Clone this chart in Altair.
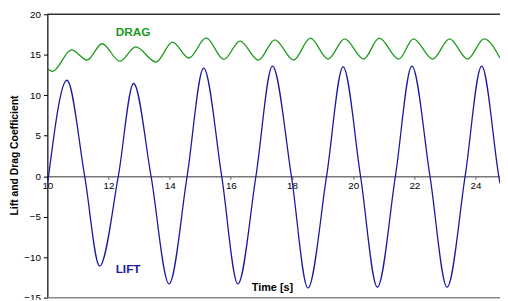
import altair as alt
import pandas as pd

# Lift coefficient: readings (time in s, value)
lift_t = [10.0, 10.04, 10.64, 11.22, 11.71, 12.32, 12.82, 13.39, 13.98, 14.57, 15.11,
          15.70, 16.23, 16.82, 17.36, 17.98, 18.52, 19.13, 19.67, 20.24, 20.79, 21.38,
          21.92, 22.51, 23.07, 23.66, 24.20, 24.76, 24.80]
lift_v = [-1.2, 0.0, 11.85, 0.0, -11.1, 0.0, 11.45, 0.0, -13.3, 0.0, 13.35,
          0.0, -13.3, 0.0, 13.6, 0.0, -13.8, 0.0, 13.5, 0.0, -13.7, 0.0,
          13.6, 0.0, -13.7, 0.0, 13.6, 0.0, -0.9]

# Drag coefficient: readings
drag_t = [10.0, 10.17, 10.79, 11.30, 11.79, 12.37, 12.89, 13.55, 14.09, 14.63, 15.19,
          15.77, 16.30, 16.90, 17.44, 18.05, 18.60, 19.18, 19.72, 20.34, 20.85, 21.49,
          21.97, 22.60, 23.15, 23.74, 24.28, 24.80]
drag_v = [13.3, 12.95, 15.6, 14.35, 16.36, 14.2, 15.96, 14.1, 16.56, 14.6, 17.08,
          14.43, 16.69, 14.35, 16.85, 14.35, 17.05, 14.47, 16.97, 14.47, 17.05, 14.47,
          16.97, 14.47, 16.97, 14.47, 16.97, 14.6]

x_ticks = [10, 12, 14, 16, 18, 20, 22, 24]
y_ticks = [-15, -10, -5, 0, 5, 10, 15, 20]
x_domain = [10, 24.8]
y_domain = [-15, 20]

labels = pd.DataFrame({
    "t": [12.8, 12.64, 17.36],
    "v": [17.8, -11.5, -13.8],
    "text": ["DRAG", "LIFT", "Time [s]"],
    "color": ["#1a9a1a", "#1a1aa0", "#000000"],
    "size": [12, 12, 11],
})

lift = pd.DataFrame({"t": lift_t, "v": lift_v})
drag = pd.DataFrame({"t": drag_t, "v": drag_v})

W, H = 460, 288
FONT = "Liberation Sans"

xs = alt.Scale(domain=x_domain, nice=False, zero=False)
ys = alt.Scale(domain=y_domain, nice=False, zero=False)

y_zero_px = H * (y_domain[1] - 0) / (y_domain[1] - y_domain[0])
x_offset = -(H - y_zero_px)

xaxis = alt.Axis(values=x_ticks, offset=x_offset, grid=False, title=None,
                 domainColor="#777777", domainWidth=1.5, tickColor="#555555",
                 tickSize=3, labelFont=FONT, labelFontSize=10, labelColor="#000000",
                 labelPadding=1, labelFlush=False)
yaxis = alt.Axis(values=y_ticks, grid=False, title="Lift and Drag Coefficient",
                 domainColor="#000000", domainWidth=1.2, tickColor="#000000",
                 tickSize=4, labelFont=FONT, labelFontSize=10, labelColor="#000000",
                 labelPadding=3, titleFont=FONT, titleFontSize=10.5, titleFontWeight="bold",
                 titleColor="#000000", titleX=-33, titleY=H / 2 - 1, titleAngle=270,
                 titleAlign="center", titleBaseline="middle")

base_lift = alt.Chart(lift).mark_line(color="#1a1aa0", strokeWidth=1.3,
                                      interpolate="monotone", clip=True).encode(
    x=alt.X("t:Q", scale=xs, axis=xaxis),
    y=alt.Y("v:Q", scale=ys, axis=yaxis),
)
drag_line = alt.Chart(drag).mark_line(color="#1a9a1a", strokeWidth=1.3,
                                      interpolate="monotone", clip=True).encode(
    x=alt.X("t:Q", scale=xs),
    y=alt.Y("v:Q", scale=ys),
)

top_rule = alt.Chart(pd.DataFrame({"v": [y_domain[1]]})).mark_rule(
    color="#333333", strokeWidth=1.5).encode(y=alt.Y("v:Q", scale=ys))
bottom_rule = alt.Chart(pd.DataFrame({"v": [y_domain[0]]})).mark_rule(
    color="#888888", strokeWidth=1.5).encode(y=alt.Y("v:Q", scale=ys))

text = alt.Chart(labels).mark_text(font=FONT, fontWeight="bold").encode(
    x=alt.X("t:Q", scale=xs),
    y=alt.Y("v:Q", scale=ys),
    text="text:N",
    color=alt.Color("color:N", scale=None),
    size=alt.Size("size:Q", scale=None),
)

chart = alt.layer(top_rule, bottom_rule, base_lift, drag_line, text).properties(
    width=W, height=H,
    autosize=alt.AutoSizeParams(type="none"),
    padding={"left": 40, "top": 4, "right": 0, "bottom": 0},
    background="white",
).configure_view(stroke=None)

chart.save("out.html", embed_options={"renderer": "svg", "actions": False})
